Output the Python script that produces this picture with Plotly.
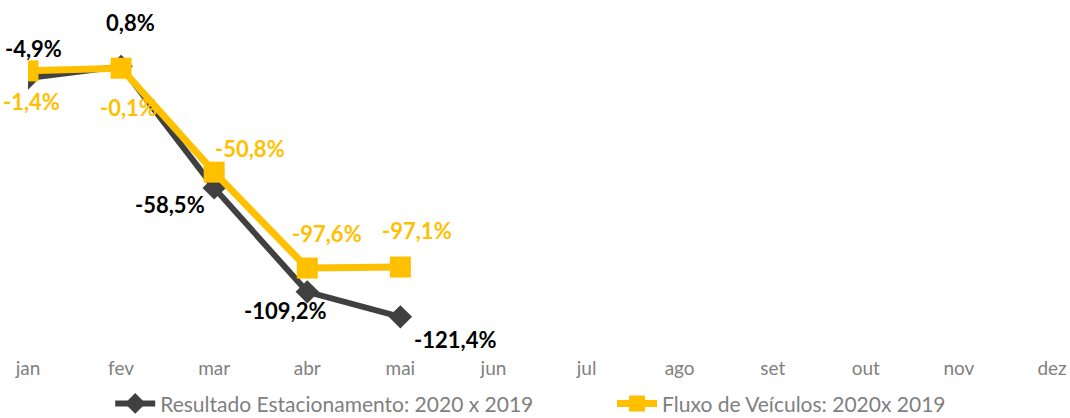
import plotly.graph_objects as go

months = ["jan", "fev", "mar", "abr", "mai", "jun", "jul", "ago", "set", "out", "nov", "dez"]
data_months = ["jan", "fev", "mar", "abr", "mai"]
resultado = [-4.9, 0.8, -58.5, -109.2, -121.4]
fluxo = [-1.4, -0.1, -50.8, -97.6, -97.1]
name_res = "Resultado Estacionamento: 2020 x 2019"
name_flu = "Fluxo de Veículos: 2020x 2019"

DARK = "#404040"
YEL = "#FFC000"
FONT = "Lato"

fig = go.Figure()
fig.add_trace(go.Scatter(
    x=data_months, y=resultado, name=name_res, mode="lines+markers",
    line=dict(color=DARK, width=6),
    marker=dict(symbol="diamond", size=18, color=DARK),
    legend="legend",
))
fig.add_trace(go.Scatter(
    x=data_months, y=fluxo, name=name_flu, mode="lines+markers",
    line=dict(color=YEL, width=7),
    marker=dict(symbol="square", size=21, color=YEL),
    legend="legend2",
))

def fmt(v):
    return f"{v:.1f}%".replace(".", ",")

res_off = [(5, -30), (9, -44), (-44, 17), (-22, 19), (55, 23)]
flu_off = [(3, 31), (7, 39), (36, -24), (20, -35), (17, -37)]

for m, v, (dx, dy) in zip(data_months, resultado, res_off):
    fig.add_annotation(x=m, y=v, text=fmt(v), showarrow=False, xshift=dx, yshift=-dy,
                       font=dict(family=FONT, size=22, color="#000000", weight="bold"))
for m, v, (dx, dy) in zip(data_months, fluxo, flu_off):
    fig.add_annotation(x=m, y=v, text=fmt(v), showarrow=False, xshift=dx, yshift=-dy,
                       font=dict(family=FONT, size=22, color=YEL, weight="bold"))

leg_common = dict(orientation="h", xref="container", yref="container",
                  xanchor="left", y=0.034, yanchor="middle",
                  font=dict(family=FONT, size=21, color="#7f7f7f"),
                  itemwidth=40, bgcolor="rgba(0,0,0,0)")

fig.update_layout(
    width=1070, height=418,
    margin=dict(l=28, r=18, t=27, b=63, autoexpand=False),
    paper_bgcolor="white", plot_bgcolor="white",
    font=dict(family=FONT),
    showlegend=True,
    legend=dict(x=0.103, **leg_common),
    legend2=dict(x=0.572, **leg_common),
    xaxis=dict(categoryorder="array", categoryarray=months, range=[0, 11],
               showgrid=False, zeroline=False, showline=False, ticks="",
               automargin=False,
               tickfont=dict(family=FONT, size=19, color="#7f7f7f")),
    yaxis=dict(range=[-140, 20], visible=False, showgrid=False, zeroline=False,
               automargin=False),
)
fig.update_xaxes(type="category")

fig.write_html("out.html",
               config={"displayModeBar": False},
               post_script="document.body.style.margin='0';document.body.style.overflow='hidden';")
